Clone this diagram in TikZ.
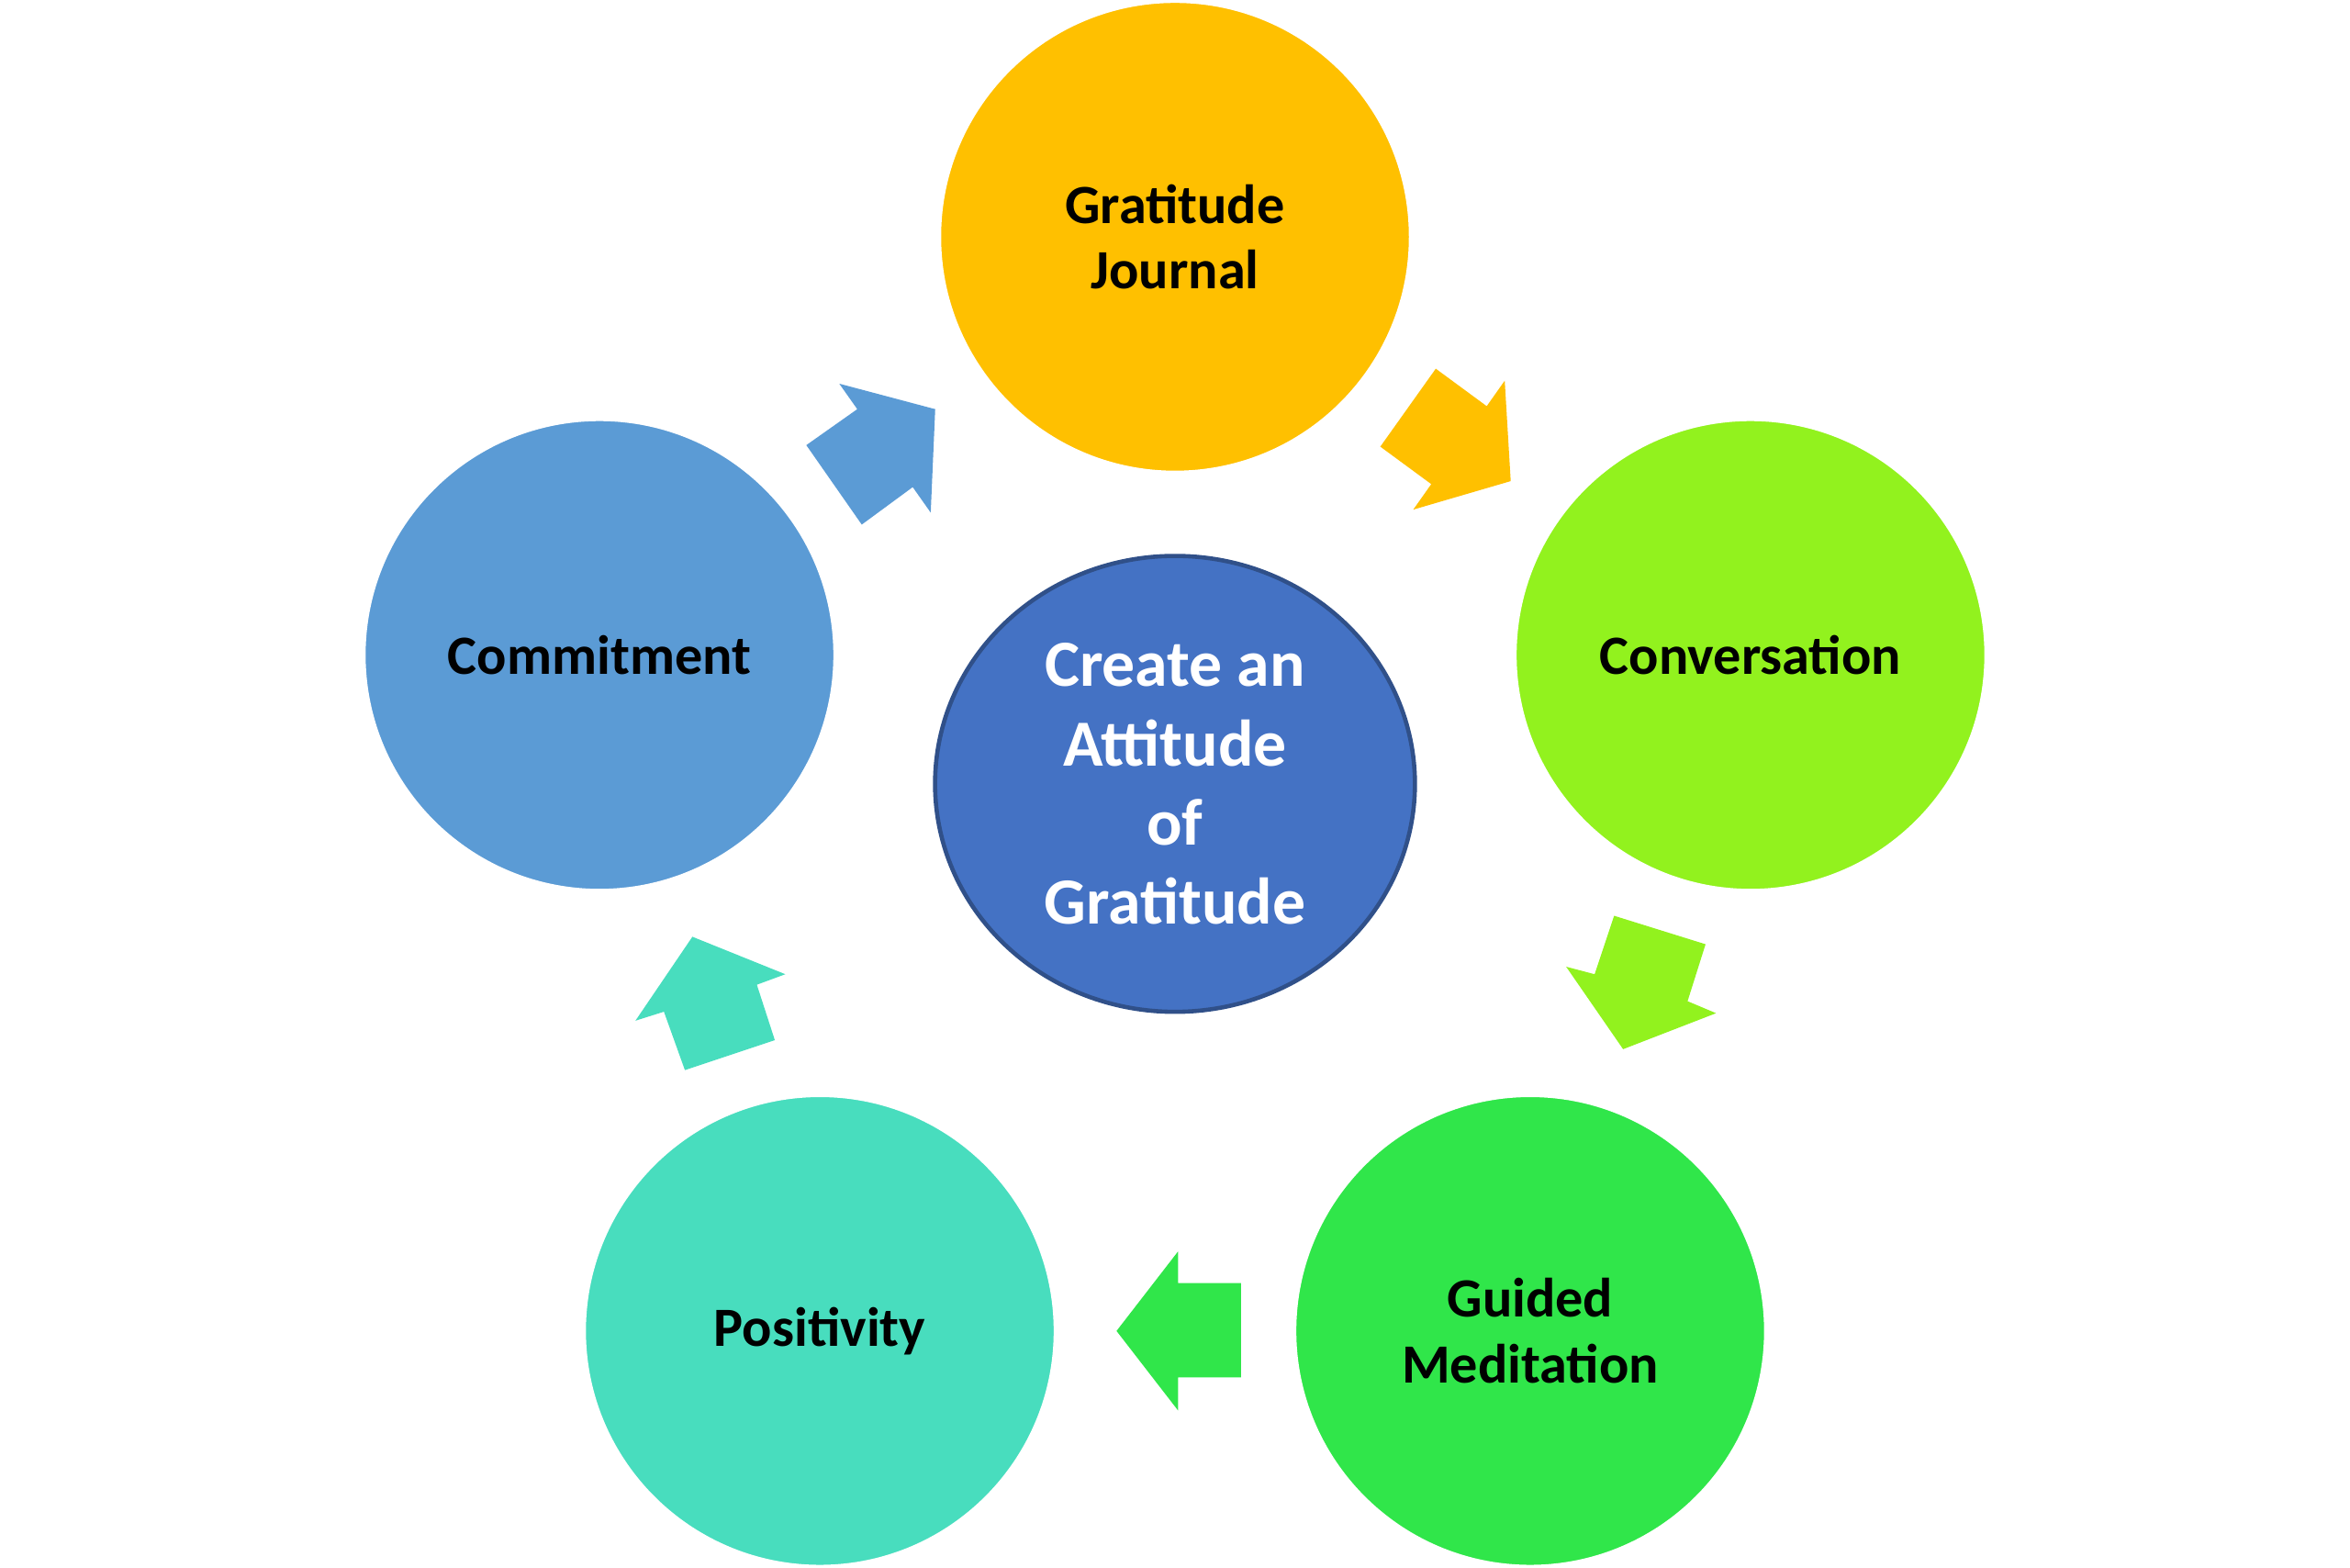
\documentclass[tikz,border=0pt]{standalone}
\usepackage{fontspec}
\setmainfont{Carlito}
\usetikzlibrary{shapes.geometric}
\definecolor{cgold}{HTML}{FFC000}
\definecolor{clime}{HTML}{92F21E}
\definecolor{cgreen}{HTML}{30E64A}
\definecolor{cteal}{HTML}{48DDBE}
\definecolor{cblue}{HTML}{5B9BD5}
\definecolor{ccenter}{HTML}{4472C4}
\begin{document}
\begin{tikzpicture}[x=0.01cm,y=-0.01cm,
  circ/.style={circle,minimum size=3.14cm,draw=white,line width=0.6pt,align=center,font=\fontsize{10.5}{12.5}\selectfont\bfseries,text=black},
  arr/.style={draw=none}]
\useasboundingbox (0,0) rectangle (1568,1046);
\node[circ,fill=cgold] (gj) at (784,158) {Gratitude\\Journal};
\node[circ,fill=clime] (cv) at (1168,437) {Conversation};
\node[circ,fill=cgreen] (gm) at (1021,888) {Guided\\Meditation};
\node[circ,fill=cteal] (po) at (547,888) {Positivity};
\node[circ,fill=cblue] (cm) at (400,437) {Commitment};
\node[ellipse,minimum width=3.2cm,minimum height=3.04cm,fill=ccenter,draw=ccenter!70!black,line width=0.8pt,align=center,text=white,font=\fontsize{12.5}{15}\selectfont\bfseries] (c) at (784,523) {Create an\\Attitude\\of\\Gratitude};
\fill[cgold] (958,246)--(992,271)--(1004,254)--(1008,321)--(943,340)--(955,323)--(921,298)--cycle;
\fill[clime] (1077,611)--(1138,630)--(1126,668)--(1145,676)--(1083,700)--(1045,645)--(1064,650)--cycle;
\fill[cgreen] (828,856)--(828,919)--(786,919)--(786,941)--(745,888)--(786,835)--(786,856)--cycle;
\fill[cteal] (457,714)--(517,694)--(505,657)--(524,650)--(462,625)--(424,681)--(443,675)--cycle;
\fill[cblue] (575,350)--(609,325)--(621,342)--(624,273)--(560,256)--(572,273)--(538,297)--cycle;
\end{tikzpicture}
\end{document}
